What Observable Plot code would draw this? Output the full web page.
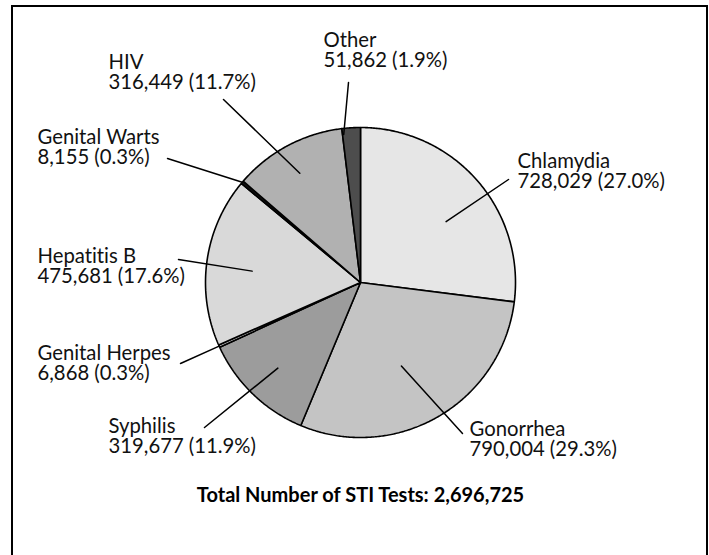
<!DOCTYPE html>
<html><head><meta charset="utf-8">
<script src="https://cdn.jsdelivr.net/npm/d3@7"></script>
<script src="https://cdn.jsdelivr.net/npm/@observablehq/plot@0.6"></script>
<style>
body{margin:0;background:#fff;}
#wrap{position:relative;width:709px;height:555px;overflow:hidden;}
#box{position:absolute;left:11px;top:5px;width:697px;height:600px;border:2.5px solid #000;box-sizing:border-box;pointer-events:none;}
svg{display:block;}
svg text{font-variant-ligatures:none;font-feature-settings:"liga" 0, "clig" 0;}
</style></head><body>
<div id="wrap"><div id="chart"></div><div id="box"></div></div>
<script>
// ---- data ----
const categories = ["Chlamydia", "Gonorrhea", "Syphilis", "Genital Herpes", "Hepatitis B", "Genital Warts", "HIV", "Other"];
const values = [728029, 790004, 319677, 6868, 475681, 8155, 316449, 51862];
const percentLabels = ["27.0%", "29.3%", "11.9%", "0.3%", "17.6%", "0.3%", "11.7%", "1.9%"];
const totalTitle = "Total Number of STI Tests: 2,696,725";

// ---- style ----
const fills = ["#e6e6e6", "#c4c4c4", "#9c9c9c", "#cfcfcf", "#d9d9d9", "#111111", "#b1b1b1", "#4d4d4d"];
const FONT = "Lato, 'Open Sans', sans-serif";
const FS = 20.3;
const TFS = 20;

// ---- layout (pixels) ----
const W = 709, H = 555, CX = 360, CY = 282, R = 155;
// label anchor (x, first baseline), leader outer end, leader inner radius & angle tweak
const labelLayout = [
  {lx: 517, ly: 167, ox: 508, oy: 179, ir: 105, da: 6},
  {lx: 469, ly: 435, ox: 462, oy: 433, ir: 93, da: 4},
  {lx: 108, ly: 432, ox: 204, oy: 427, ir: 119, da: 0},
  {lx: 37,  ly: 359, ox: 180, oy: 363, ir: 155, da: 0},
  {lx: 37,  ly: 262, ox: 178, oy: 259, ir: 109, da: -2},
  {lx: 37,  ly: 143, ox: 167, oy: 158, ir: 155, da: 0},
  {lx: 108, ly: 68,  ox: 223, oy: 99,  ir: 125, da: -1},
  {lx: 323, ly: 46,  ox: 348, oy: 82,  ir: 149, da: -3}
];
const totalY = 501;

// unit conversion: data units are pie radii, centred on pie
const ux = px => (px - CX) / R;
const uy = py => (CY - py) / R;

const total = d3.sum(values);
const fmt = d3.format(",");
let acc = 0;
const slices = categories.map((c, i) => {
  const a0 = acc / total * 2 * Math.PI;
  acc += values[i];
  const a1 = acc / total * 2 * Math.PI;
  return {category: c, value: values[i], a0, a1, fill: fills[i]};
});

function slicePolygon(s) {
  const pts = [{x: 0, y: 0}];
  const n = Math.max(2, Math.ceil((s.a1 - s.a0) / (Math.PI / 360)));
  for (let k = 0; k <= n; k++) {
    const a = s.a0 + (s.a1 - s.a0) * k / n;
    pts.push({x: Math.sin(a), y: Math.cos(a)});
  }
  pts.push({x: 0, y: 0});
  return pts;
}

const leaders = [];
slices.forEach((s, i) => {
  const L = labelLayout[i];
  const mid = (s.a0 + s.a1) / 2 + L.da * Math.PI / 180;
  const r = L.ir / R;
  leaders.push({id: i, x: Math.sin(mid) * r, y: Math.cos(mid) * r});
  leaders.push({id: i, x: ux(L.ox), y: uy(L.oy)});
});

const labels = slices.map((s, i) => ({
  x: ux(labelLayout[i].lx),
  y: uy(labelLayout[i].ly - 0.71 * FS),
  text: `${s.category}\n${fmt(s.value)} (${percentLabels[i]})`
}));

const marks = [];
slices.forEach(s => {
  marks.push(Plot.line(slicePolygon(s), {x: "x", y: "y", fill: s.fill, stroke: "#000", strokeWidth: 1.6, strokeLinejoin: "miter", curve: "linear"}));
});
marks.push(Plot.line(leaders, {x: "x", y: "y", z: "id", stroke: "#000", strokeWidth: 1.5}));
marks.push(Plot.text(labels, {x: "x", y: "y", text: "text", textAnchor: "start", lineAnchor: "top", lineHeight: 1.0, fontSize: FS, fill: "#111"}));
marks.push(Plot.text([totalTitle], {x: 0, y: uy(totalY - 0.71 * TFS), text: d => d, lineAnchor: "top", fontSize: TFS, fontWeight: "bold", fill: "#000"}));

const chart = Plot.plot({
  width: W, height: H,
  margin: 0,
  style: {fontFamily: FONT, background: "#fff"},
  x: {domain: [ux(0), ux(W)], range: [0, W], axis: null},
  y: {domain: [uy(H), uy(0)], range: [H, 0], axis: null},
  marks
});
document.getElementById("chart").appendChild(chart);
</script>
</body></html>
